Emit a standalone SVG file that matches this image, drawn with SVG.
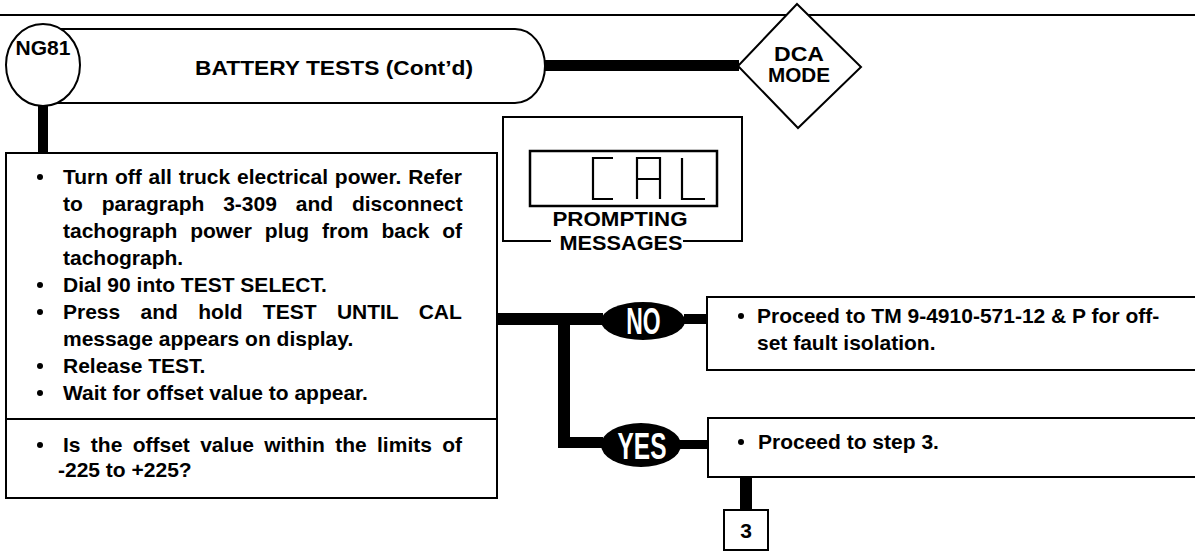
<svg xmlns="http://www.w3.org/2000/svg" width="1195" height="554" viewBox="0 0 1195 554">
<style>
.t{font-family:"Liberation Sans",Arial,sans-serif;font-weight:bold;font-size:21px;fill:#000}
.ln{fill:none;stroke:#000;stroke-width:2}
.box{fill:#fff;stroke:#000;stroke-width:2}
.thick{fill:#000;stroke:none}
.seg{fill:none;stroke:#000;stroke-width:2.2}
.oval{fill:#000}
.ot{font-family:"Liberation Sans",Arial,sans-serif;font-weight:bold;font-size:37px;fill:#fff}
</style>
<rect width="1195" height="554" fill="#fff"/>
<line class="ln" x1="0" y1="15" x2="1195" y2="15"/>

<g id="connectors">
  <rect class="thick" x="38" y="103" width="10" height="50"/>
  <rect class="thick" x="545" y="60" width="194" height="11"/>
  <rect class="thick" x="497" y="313" width="106" height="12"/>
  <rect class="thick" x="558" y="313" width="12" height="135"/>
  <rect class="thick" x="558" y="437" width="45" height="11"/>
  <rect class="thick" x="684" y="314" width="24" height="10"/>
  <rect class="thick" x="679" y="440" width="30" height="9"/>
  <rect class="thick" x="740" y="476" width="12" height="35"/>
</g>

<g id="header">
  <path class="box" d="M44 29 H515 A30 37 0 0 1 515 103 H44"/>
  <ellipse class="box" cx="43" cy="65" rx="37" ry="41"/>
  <text class="t" x="43" y="55" text-anchor="middle" font-size="17">NG81</text>
  <text class="t" x="195" y="75" font-size="20" textLength="278" lengthAdjust="spacingAndGlyphs">BATTERY TESTS (Cont’d)</text>
</g>

<g id="dca-mode">
  <polygon class="box" points="797,4 861,67 798,128 738,66"/>
  <text class="t" x="799" y="61" text-anchor="middle" font-size="16" textLength="50" lengthAdjust="spacingAndGlyphs">DCA</text>
  <text class="t" x="799" y="82" text-anchor="middle" font-size="16" textLength="62" lengthAdjust="spacingAndGlyphs">MODE</text>
</g>

<g id="prompting">
  <path class="ln" d="M551 241 H503 V117 H742 V241 H683"/>
  <rect x="530" y="151" width="187" height="55" fill="none" stroke="#000" stroke-width="2.5"/>
  <path class="seg" d="M613 158 H593 V199 H613"/>
  <path class="seg" d="M637 199 V158 H660 V199 M637 179 H660"/>
  <path class="seg" d="M682 158 V199 H705"/>
  <text class="t" x="620" y="226" text-anchor="middle" font-size="20" textLength="135" lengthAdjust="spacingAndGlyphs">PROMPTING</text>
  <text class="t" x="621" y="250" text-anchor="middle" font-size="20" textLength="123" lengthAdjust="spacingAndGlyphs">MESSAGES</text>
</g>

<g id="main-step">
  <rect class="box" x="6" y="153" width="491" height="345"/>
  <line class="ln" x1="6" y1="419" x2="497" y2="419"/>
  <g fill="#000">
    <circle cx="40" cy="177" r="3"/><circle cx="40" cy="285" r="3"/><circle cx="40" cy="312" r="3"/>
    <circle cx="40" cy="366" r="3"/><circle cx="40" cy="393" r="3"/><circle cx="40" cy="445" r="3"/>
  </g>
  <text class="t" x="63" y="184" word-spacing="1">Turn off all truck electrical power. Refer</text>
  <text class="t" x="63" y="211" word-spacing="13">to paragraph 3-309 and disconnect</text>
  <text class="t" x="63" y="238" word-spacing="7">tachograph power plug from back of</text>
  <text class="t" x="63" y="265">tachograph.</text>
  <text class="t" x="63" y="292">Dial 90 into TEST SELECT.</text>
  <text class="t" x="63" y="319" word-spacing="14.5">Press and hold TEST UNTIL CAL</text>
  <text class="t" x="63" y="346">message appears on display.</text>
  <text class="t" x="63" y="373">Release TEST.</text>
  <text class="t" x="63" y="400">Wait for offset value to appear.</text>
  <text class="t" x="63" y="452" word-spacing="4.5">Is the offset value within the limits of</text>
  <text class="t" x="58" y="477">-225 to +225?</text>
</g>

<g id="no-branch">
  <ellipse class="oval" cx="643" cy="321" rx="42" ry="19"/>
  <text class="ot" transform="translate(643.5,334) scale(0.62,1)" text-anchor="middle">NO</text>
</g>

<g id="yes-branch">
  <ellipse class="oval" cx="641" cy="445" rx="40" ry="22"/>
  <text class="ot" transform="translate(642,459) scale(0.66,1)" text-anchor="middle">YES</text>
</g>

<g id="no-action">
  <rect class="box" x="707" y="297" width="500" height="73"/>
  <circle cx="741" cy="316" r="3"/>
  <text class="t" x="757" y="323">Proceed to TM 9-4910-571-12 &amp; P for off-</text>
  <text class="t" x="757" y="350">set fault isolation.</text>
</g>

<g id="yes-action">
  <rect class="box" x="708" y="418" width="500" height="59"/>
  <circle cx="741" cy="442" r="3"/>
  <text class="t" x="758" y="449">Proceed to step 3.</text>
</g>

<g id="step-3">
  <rect class="box" x="724" y="510" width="44" height="40"/>
  <text class="t" x="746" y="538" text-anchor="middle" font-size="20">3</text>
</g>
</svg>
